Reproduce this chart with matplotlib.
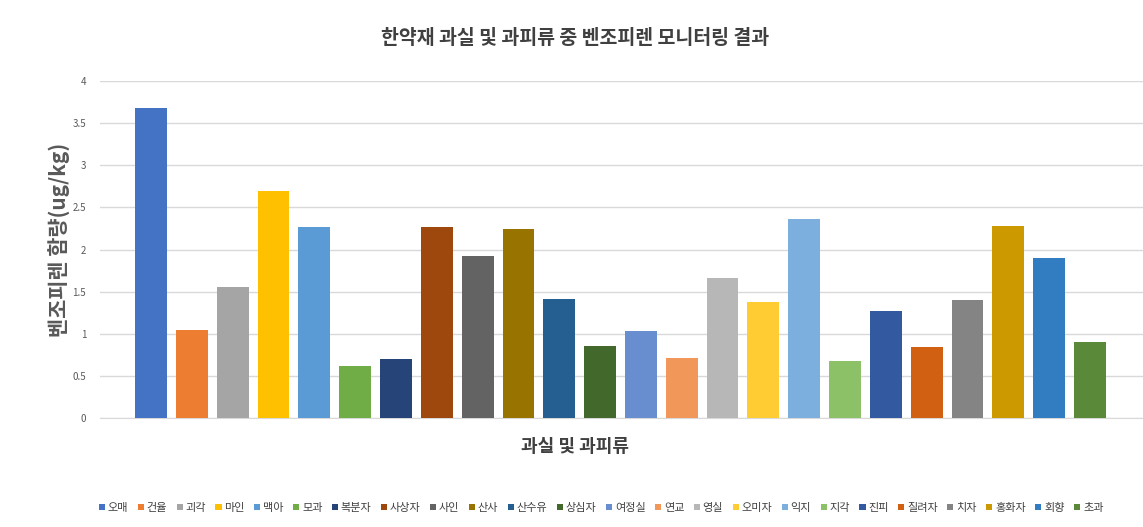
import matplotlib
matplotlib.use("Agg")
import matplotlib.pyplot as plt
import numpy as np
from matplotlib.patches import Patch

plt.rcParams['font.family'] = ['Noto Sans CJK KR', 'DejaVu Sans']

names = ["오매", "건율", "괴각", "마인", "맥아", "모과", "복분자", "사상자",
         "사인", "산사", "산수유", "상심자", "여정실", "연교", "영실", "오미자",
         "익지", "지각", "진피", "질려자", "치자", "홍화자", "회향", "초과"]
values = [3.68, 1.04, 1.55, 2.69, 2.27, 0.62, 0.70, 2.27,
          1.92, 2.24, 1.41, 0.85, 1.03, 0.71, 1.66, 1.38,
          2.36, 0.68, 1.27, 0.84, 1.40, 2.28, 1.90, 0.90]
colors = ["#4472C4", "#ED7D31", "#A5A5A5", "#FFC000", "#5B9BD5", "#70AD47",
          "#264478", "#9E480E", "#636363", "#997300", "#255E91", "#43682B",
          "#698ED0", "#F1975A", "#B7B7B7", "#FFCD33", "#7CAFDD", "#8CC168",
          "#335AA1", "#D26012", "#848484", "#CC9A00", "#327DC2", "#5A8A39"]

title = "한약재 과실 및 과피류 중 벤조피렌 모니터링 결과"
xlabel = "과실 및 과피류"
ylabel = "벤조피렌 함량(ug/kg)"

fig = plt.figure(figsize=(11.43, 5.27), dpi=100)
ax = fig.add_axes([100 / 1143, 1 - 418 / 527, 1 - 100 / 1143, (418 - 81) / 527])

x = np.arange(len(values))
ax.bar(x, values, width=0.78, color=colors, zorder=3)

ax.set_xlim(-1.25, 24.3)
ax.set_ylim(0, 4)
ax.set_yticks(np.arange(0, 4.01, 0.5))
ax.set_yticklabels(["{:g}".format(v) for v in np.arange(0, 4.01, 0.5)])
ax.set_xticks([])
ax.tick_params(axis="y", length=0, labelsize=7, labelcolor="#595959", pad=10)
ax.grid(axis="y", color="#D9D9D9", linewidth=1, zorder=0)
for s in ["top", "right", "left"]:
    ax.spines[s].set_visible(False)
ax.spines["bottom"].set_color("#D9D9D9")

fig.text(0.503, 1 - 38 / 527, title, ha="center", va="center",
         fontsize=14, fontweight="bold", color="#404040")
fig.text(0.503, 1 - 447 / 527, xlabel, ha="center", va="center",
         fontsize=13, fontweight="bold", color="#404040")
fig.text(60 / 1143, 1 - 240 / 527, ylabel, ha="center", va="center",
         rotation=90, fontsize=15, fontweight="bold", color="#595959")

handles = [Patch(facecolor=c, label=n) for c, n in zip(colors, names)]
fig.legend(handles=handles, loc="center", bbox_to_anchor=(0.526, 1 - 508 / 527),
           ncol=24, frameon=False, fontsize=8, handlelength=0.55,
           handleheight=0.55, handletextpad=0.25, columnspacing=0.85,
           labelcolor="#404040")

fig.savefig("out.png", dpi=100)
